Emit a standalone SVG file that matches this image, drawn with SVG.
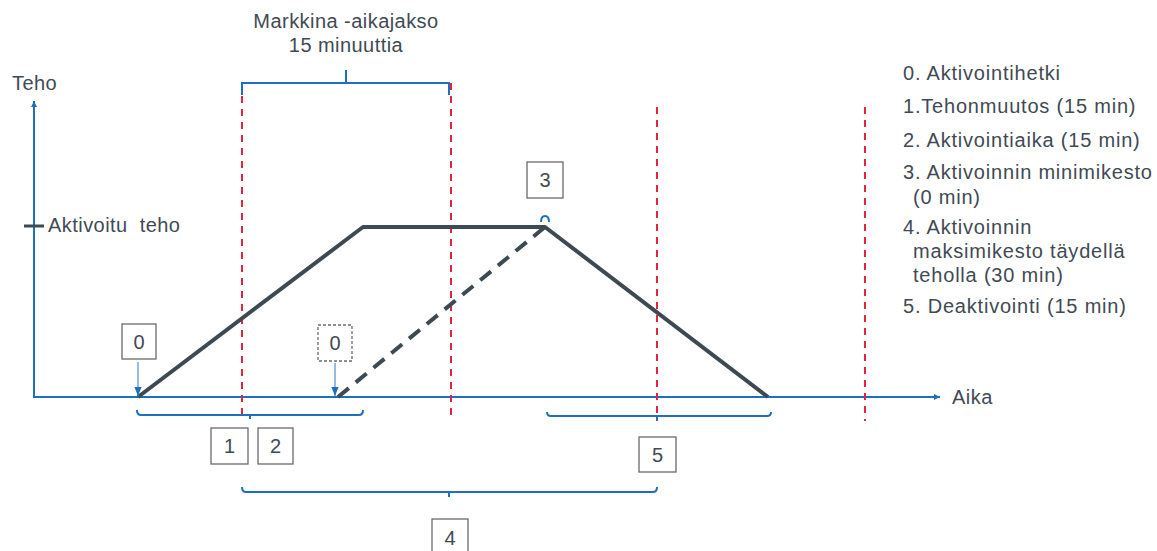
<svg xmlns="http://www.w3.org/2000/svg" width="1157" height="551" viewBox="0 0 1157 551">
<style>
text{font-family:"Liberation Sans",Arial,sans-serif;fill:#3f4a54}
.lbl{font-size:20px;letter-spacing:0.45px}
.num{font-size:20px}
.leg{font-size:20px;letter-spacing:0.8px}
.box{fill:#fff;stroke:#6b6b6b;stroke-width:1.3}
.axis{stroke:#1f6fc0;stroke-width:2;fill:none}
.br{stroke:#1f6fc0;stroke-width:2;fill:none}
.red{stroke:#e0263c;stroke-width:2;stroke-dasharray:7 6;fill:none}
.pw{stroke:#3d4a52;stroke-width:4;fill:none;stroke-linejoin:round}
.ar{stroke:#4a90d0;stroke-width:1.2;fill:none}
</style>
<defs>
<marker id="ah" viewBox="0 0 10 10" refX="10" refY="5" markerWidth="6" markerHeight="6" markerUnits="userSpaceOnUse" orient="auto"><path d="M0,0 L10,5 L0,10 z" fill="#1f6fc0"/></marker>
<marker id="ah2" viewBox="0 0 10 10" refX="10" refY="5" markerWidth="9" markerHeight="9" markerUnits="userSpaceOnUse" orient="auto"><path d="M0,1 L10,5 L0,9 z" fill="#1f6fc0"/></marker>
</defs>
<rect width="1157" height="551" fill="#fff"/>
<g id="axes">
<line class="axis" x1="34" y1="398" x2="34" y2="101" marker-end="url(#ah)"/>
<line class="axis" x1="34" y1="397" x2="940" y2="397" marker-end="url(#ah)"/>
<line x1="24" y1="226" x2="44" y2="226" stroke="#3d4a52" stroke-width="3"/>
<text class="lbl" x="12" y="90">Teho</text>
<text class="lbl" x="48" y="232" xml:space="preserve">Aktivoitu  teho</text>
<text class="lbl" x="952" y="404">Aika</text>
</g>
<g id="periods">
<line class="red" x1="242" y1="83" x2="242" y2="421"/>
<line class="red" x1="451" y1="83" x2="451" y2="421"/>
<line class="red" x1="657" y1="107" x2="657" y2="421"/>
<line class="red" x1="865" y1="107" x2="865" y2="421"/>
</g>
<g id="power-curve">
<polyline class="pw" points="138,397 363,227 545,227 768,397"/>
<line class="pw" x1="338" y1="397" x2="545" y2="227" stroke-dasharray="14 9"/>
</g>
<g id="connectors">
<path class="br" d="M242,95 V83 H449 V95 M346,83 V70"/>
<path class="br" d="M137,410 Q137,415 141,415 H359 Q363,415 363,410 M250,415 V419"/>
<path class="br" d="M547,412 Q547,416 551,416 H767 Q771,416 771,412 M657,416 V420"/>
<path class="br" d="M242,487 Q242,492 246,492 H653 Q657,492 657,487 M449,492 V497"/>
<path class="br" d="M541,222 Q541,216 545,216 Q549,216 549,222" stroke-width="1.6"/>
<line class="ar" x1="138" y1="362" x2="138" y2="396" marker-end="url(#ah2)"/>
<line class="ar" x1="335" y1="363" x2="335" y2="396" marker-end="url(#ah2)"/>
</g>
<g id="top-label">
<text class="lbl" x="346" y="28" text-anchor="middle">Markkina -aikajakso</text>
<text class="lbl" x="346" y="52" text-anchor="middle">15 minuuttia</text>
</g>
<g id="box0">
<rect class="box" x="122" y="324" width="34" height="35"/>
<text class="num" x="139" y="349" text-anchor="middle">0</text>
</g>
<g id="box0b">
<rect class="box" x="318" y="325" width="34" height="36" stroke-dasharray="3 2"/>
<text class="num" x="335" y="350" text-anchor="middle">0</text>
</g>
<g id="box1">
<rect class="box" x="211" y="428" width="37" height="36"/>
<text class="num" x="229.500" y="453" text-anchor="middle">1</text>
</g>
<g id="box2">
<rect class="box" x="258" y="428" width="35" height="36"/>
<text class="num" x="275.500" y="453" text-anchor="middle">2</text>
</g>
<g id="box3">
<rect class="box" x="527" y="162" width="36" height="36"/>
<text class="num" x="545" y="187" text-anchor="middle">3</text>
</g>
<g id="box5">
<rect class="box" x="639" y="437" width="37" height="35"/>
<text class="num" x="657.500" y="462" text-anchor="middle">5</text>
</g>
<g id="box4">
<rect class="box" x="432" y="519" width="36" height="40"/>
<text class="num" x="450" y="545" text-anchor="middle">4</text>
</g>
<g id="legend">
<text class="leg" x="903" y="80">0. Aktivointihetki</text>
<text class="leg" x="903" y="113">1.Tehonmuutos (15 min)</text>
<text class="leg" x="903" y="147">2. Aktivointiaika (15 min)</text>
<text class="leg" x="903" y="179">3. Aktivoinnin minimikesto</text>
<text class="leg" x="913" y="204">(0 min)</text>
<text class="leg" x="903" y="234">4. Aktivoinnin</text>
<text class="leg" x="913" y="258">maksimikesto täydellä</text>
<text class="leg" x="913" y="282">teholla (30 min)</text>
<text class="leg" x="903" y="313">5. Deaktivointi (15 min)</text>
</g>
</svg>
